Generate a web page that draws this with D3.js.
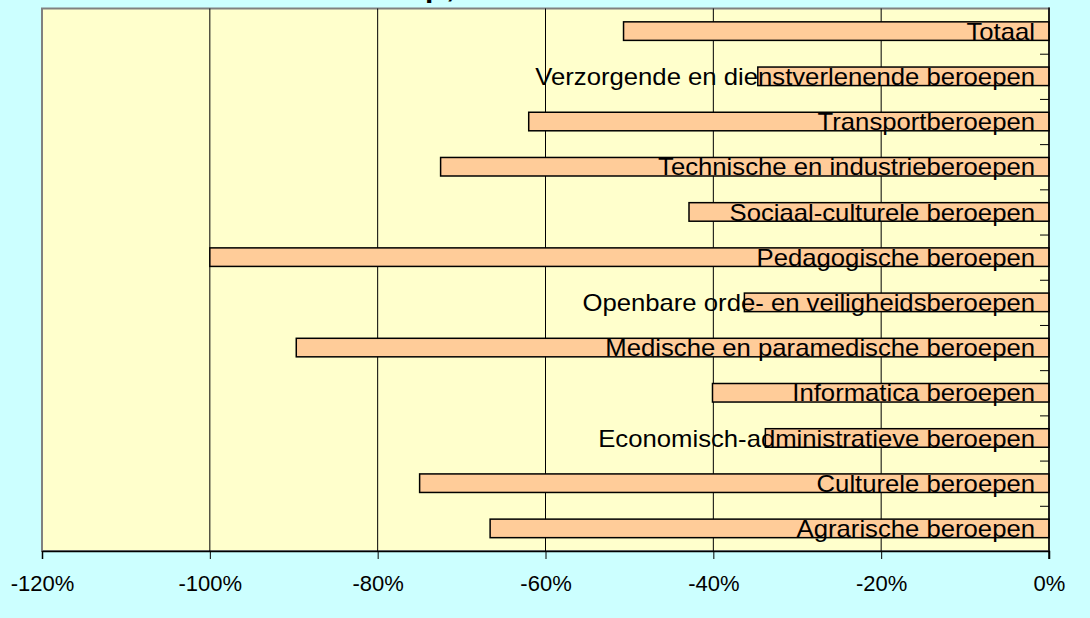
<!DOCTYPE html>
<html>
<head>
<meta charset="utf-8">
<script src="https://cdn.jsdelivr.net/npm/d3@7"></script>
<style>
  html, body { margin: 0; padding: 0; background: #ccffff; }
  svg { display: block; font-family: Arial, "Liberation Sans", sans-serif; }
</style>
</head>
<body>
<div id="chart"></div>
<script>
// categories top to bottom
const categories = [
  "Totaal",
  "Verzorgende en dienstverlenende beroepen",
  "Transportberoepen",
  "Technische en industrieberoepen",
  "Sociaal-culturele beroepen",
  "Pedagogische beroepen",
  "Openbare orde- en veiligheidsberoepen",
  "Medische en paramedische beroepen",
  "Informatica beroepen",
  "Economisch-administratieve beroepen",
  "Culturele beroepen",
  "Agrarische beroepen"
];
const values = [-0.507, -0.347, -0.620, -0.725, -0.429, -1.000, -0.363, -0.897, -0.401, -0.338, -0.750, -0.666];
const xTicks = [-1.2, -1.0, -0.8, -0.6, -0.4, -0.2, 0];

const W = 1090, H = 618;
const plot = { left: 42, right: 1049, top: 8.5, bottom: 551 };

const svg = d3.select("#chart").append("svg")
  .attr("width", W)
  .attr("height", H);

svg.append("rect")
  .attr("width", W).attr("height", H)
  .attr("fill", "#ccffff");

// title, mostly cut off above the frame
svg.append("text")
  .attr("x", 425)
  .attr("y", -3)
  .attr("font-size", 30)
  .attr("font-weight", "bold")
  .attr("letter-spacing", 3)
  .attr("fill", "#000")
  .text("p,");

const x = d3.scaleLinear()
  .domain([-1.2, 0])
  .range([plot.left, plot.right]);

const y = d3.scaleBand()
  .domain(categories)
  .range([plot.top, plot.bottom])
  .paddingInner(0.59)
  .paddingOuter(0.295);

// plot area
svg.append("rect")
  .attr("x", plot.left)
  .attr("y", plot.top)
  .attr("width", plot.right - plot.left)
  .attr("height", plot.bottom - plot.top)
  .attr("fill", "#ffffcc")
  .attr("stroke", "#808080")
  .attr("stroke-width", 2);

// vertical gridlines
svg.append("g")
  .selectAll("line")
  .data(xTicks.slice(1, -1))
  .join("line")
  .attr("x1", d => x(d)).attr("x2", d => x(d))
  .attr("y1", plot.top).attr("y2", plot.bottom)
  .attr("stroke", "#000")
  .attr("stroke-width", 1);

// bars
svg.append("g")
  .selectAll("rect")
  .data(categories)
  .join("rect")
  .attr("x", (d, i) => x(values[i]))
  .attr("y", d => y(d))
  .attr("width", (d, i) => x(0) - x(values[i]))
  .attr("height", y.bandwidth())
  .attr("fill", "#ffcc99")
  .attr("stroke", "#000")
  .attr("stroke-width", 1.5);

// x axis
const xAxis = svg.append("g")
  .attr("transform", `translate(0,${plot.bottom})`)
  .call(d3.axisBottom(x)
    .tickValues(xTicks)
    .tickSize(8)
    .tickPadding(16)
    .tickFormat(d => Math.round(d * 100) + "%"));
xAxis.select(".domain").attr("stroke", "#000").attr("stroke-width", 1.5);
xAxis.selectAll(".tick line").attr("stroke", "#000");
xAxis.selectAll("text")
  .attr("font-size", 22)
  .attr("font-family", "Arial, 'Liberation Sans', sans-serif")
  .attr("fill", "#000");

// category axis on the right, ticks at band boundaries
const idx = d3.scaleLinear()
  .domain([0, categories.length])
  .range([plot.top, plot.bottom]);
const yTickAxis = svg.append("g")
  .attr("transform", `translate(${plot.right},0)`)
  .call(d3.axisLeft(idx)
    .tickValues(d3.range(1, categories.length + 1))
    .tickSize(9)
    .tickFormat(""));
yTickAxis.select(".domain").remove();
yTickAxis.selectAll(".tick line").attr("stroke", "#000");

svg.append("line")
  .attr("x1", plot.right).attr("x2", plot.right)
  .attr("y1", plot.top - 1).attr("y2", plot.bottom + 8)
  .attr("stroke", "#000")
  .attr("stroke-width", 1.5);

// category labels (the original renders them a bit wider than Arial)
const yAxis = svg.append("g")
  .attr("transform", `translate(${plot.right},0)`)
  .call(d3.axisLeft(y).tickSize(0).tickPadding(14));
yAxis.select(".domain").remove();
yAxis.selectAll("text")
  .attr("font-size", 24)
  .attr("font-family", "Arial, 'Liberation Sans', sans-serif")
  .attr("dy", "0.36em")
  .attr("fill", "#000")
  .each(function () {
    const len = this.getComputedTextLength();
    d3.select(this)
      .attr("textLength", len * 1.07)
      .attr("lengthAdjust", "spacingAndGlyphs");
  });
</script>
</body>
</html>
